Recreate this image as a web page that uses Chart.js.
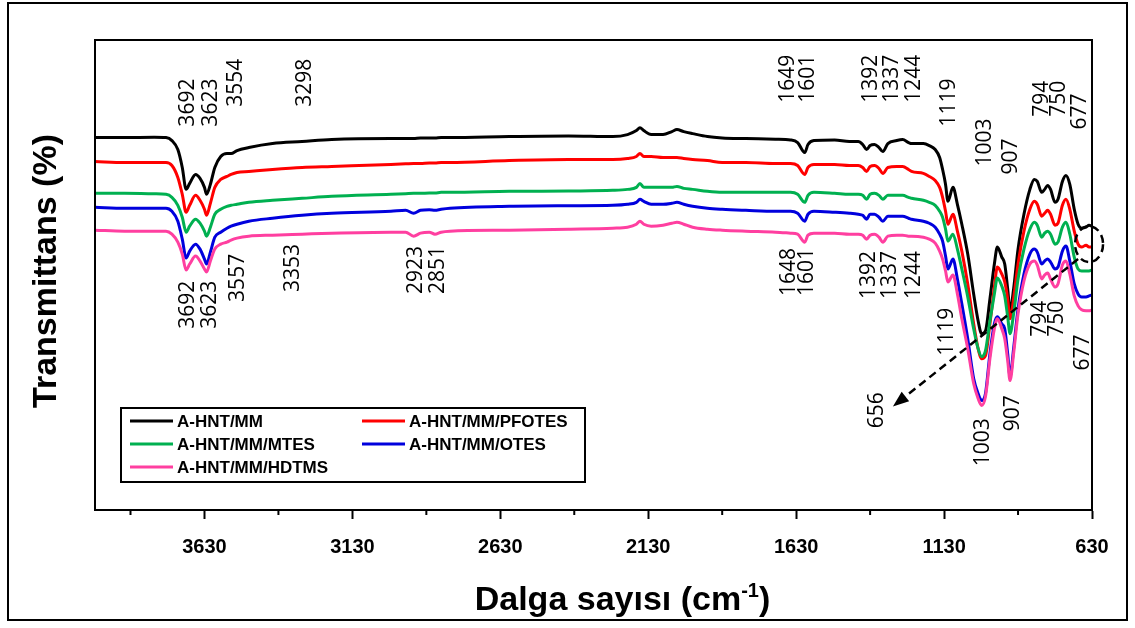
<!DOCTYPE html>
<html>
<head>
<meta charset="utf-8">
<title>FTIR</title>
<script src="https://cdn.jsdelivr.net/npm/chart.js@4.4.1/dist/chart.umd.min.js"></script>
<style>
html, body { margin: 0; padding: 0; background: #fff; }
#wrap { width: 1135px; height: 628px; }
</style>
</head>
<body>
<div id="wrap"><canvas id="chart" width="1135" height="628"></canvas></div>
<script>
// wavenumber grid (cm-1), shared by every spectrum
const wavenumbers = [
    4000, 3900, 3800, 3760, 3740, 3720, 3705, 3692, 3680, 3660,
    3645, 3630, 3623, 3610, 3595, 3575, 3554, 3540, 3520, 3480,
    3400, 3300, 3200, 3000, 2950, 2923, 2900, 2870, 2851, 2830,
    2800, 2600, 2400, 2250, 2200, 2170, 2158, 2145, 2120, 2080,
    2050, 2033, 2010, 1980, 1930, 1880, 1800, 1700, 1649, 1625,
    1601, 1590, 1570, 1500, 1450, 1420, 1405, 1392, 1380, 1365,
    1350, 1337, 1320, 1290, 1270, 1250, 1240, 1200, 1180, 1160,
    1145, 1135, 1125, 1117, 1100, 1085, 1070, 1050, 1030, 1015,
    1003, 990, 975, 960, 950, 935, 925, 915, 907, 895,
    880, 860, 840, 825, 815, 800, 790, 780, 770, 755,
    745, 730, 718, 705, 690, 677, 665, 650, 640, 630
];

// transmittance (%), spectra are offset vertically
const hntMM = [
    93.5, 93.5, 93.6, 93.5, 92.75, 90.5, 86, 80.5, 82, 84.25,
    83.25, 81, 79.25, 81.75, 86, 88.75, 89.5, 89.5, 90.25, 91,
    92, 92.5, 93, 93.25, 93.25, 93.25, 93.4, 93.4, 93.4, 93.5,
    93.5, 93.75, 93.9, 93.75, 94.25, 95.25, 96, 95.25, 94.25, 94.25,
    95, 95.5, 95, 94.5, 93.75, 93.4, 93.25, 93.1, 92.9, 92.25,
    89.75, 91.75, 92.75, 92.9, 92.5, 92.5, 91.75, 90.5, 91.5, 91.75,
    91, 90, 92, 92.75, 93, 92.25, 92, 92, 91.5, 90.5,
    88.5, 85.5, 81.75, 77.5, 81, 76.75, 71.75, 64.25, 54.25, 47.5,
    44.25, 45, 53, 61.75, 66, 63.5, 61.75, 55.5, 50, 55.5,
    65.5, 74.25, 80.5, 83, 82.5, 79.75, 80.5, 81.5, 80.5, 77.25,
    78, 82.5, 84, 81.75, 75.5, 71.75, 70.75, 71, 71.5, 71.25
];
const hntPfotes = [
    87.5, 87.25, 87.25, 87.25, 86.5, 83.5, 79.25, 74.75, 76.5, 79,
    77.75, 75.5, 74, 77, 81, 83, 83.75, 84.25, 84.75, 85,
    85.5, 86, 86.25, 86.75, 86.9, 87, 87, 87.1, 87.1, 87.25,
    87.25, 87.75, 88, 88, 88.25, 88.75, 89.5, 88.75, 88.75, 88.5,
    88.5, 88.5, 88.25, 88, 87.75, 87.25, 87.25, 87, 87, 86.5,
    84.25, 86, 86.75, 86.75, 86.5, 86.5, 86, 85, 86.25, 86.5,
    85.75, 84.5, 86, 86.25, 86.25, 85.5, 85, 84.5, 83.75, 82.75,
    81, 78.5, 75, 71.75, 74.25, 70, 65, 56.75, 46.75, 40.5,
    38, 38.75, 46.75, 56, 61, 59.25, 57.25, 53, 48, 53,
    61.75, 70, 75.5, 77.5, 76.75, 73.75, 74.5, 75.25, 74.25, 71.5,
    72, 76.5, 78, 75.5, 70, 66.75, 66, 66.5, 66, 66
];
const hntMtes = [
    79.5, 79.5, 79.4, 79.25, 78.5, 76.5, 73.5, 69.75, 71.25, 73,
    72, 70, 68.75, 71, 74.25, 75.5, 76.25, 76.5, 76.75, 77.25,
    77.75, 78.25, 78.75, 79.25, 79.4, 79.5, 79.5, 79.6, 79.6, 79.75,
    79.75, 80, 80.1, 80.25, 80.5, 81, 82, 81, 81, 81,
    81, 81.25, 80.75, 80.5, 80, 79.75, 79.75, 79.75, 79.75, 79.25,
    77.25, 79, 79.75, 79.5, 79.25, 79.25, 79, 78, 79.25, 79.5,
    79, 78, 79, 79, 79, 78.5, 78.25, 77.75, 77.25, 76.5,
    75, 73.5, 70.5, 67.5, 69.25, 65.5, 60.5, 53.5, 45.5, 40.5,
    38.5, 40, 47.5, 54.25, 58.25, 56.25, 53.75, 48.5, 44.25, 49.25,
    58, 65.5, 70.5, 72.25, 71.5, 68.5, 69.5, 70, 69.25, 66.75,
    67.25, 71, 72.25, 69.25, 63.5, 60.5, 60, 60, 60, 60.25
];
const hntOtes = [
    76, 75.75, 75.75, 75.75, 75, 72.5, 68, 63.25, 65, 66.75,
    65.5, 63, 61.75, 64.75, 68.5, 69.75, 70.75, 71.25, 71.75, 72.5,
    73.25, 74, 74.5, 75, 75.25, 74.5, 75.25, 75.4, 75.25, 75.5,
    75.75, 76.25, 76.4, 76.5, 76.75, 77.25, 78, 77.5, 76.75, 76.75,
    77, 77.25, 76.75, 76.25, 75.75, 75.5, 75.25, 75, 75, 74.5,
    72.5, 74.25, 75, 74.75, 74.5, 74.25, 74, 73, 74.25, 74.25,
    73.5, 72.5, 73.75, 73.75, 73.75, 73.25, 73, 72.5, 72, 71,
    69.25, 67.5, 63.75, 60.5, 63, 58, 51.75, 43, 33, 29.25,
    27.5, 29.25, 39.25, 46.75, 48.5, 46.75, 45.5, 39.25, 33.5, 40.5,
    50.5, 59.25, 64.25, 65.5, 64.75, 61.75, 62.5, 63, 62.25, 60.5,
    61, 65, 66.25, 62.5, 56.75, 54.25, 53.5, 53.5, 53.75, 54
];
const hntHdtms = [
    70.25, 70, 70, 70, 69.25, 67.25, 64.25, 60.25, 61.75, 63.75,
    62.5, 60.5, 59.75, 62.5, 65.5, 66.75, 67.25, 67.75, 68.25, 68.75,
    69, 69.25, 69.5, 69.75, 69.75, 68.75, 69.5, 69.75, 69.25, 69.75,
    70, 70.25, 70.5, 70.75, 71, 71.75, 72.5, 71.75, 71.25, 71.5,
    72, 72.25, 71.75, 71, 70.5, 70.25, 70, 69.75, 69.5, 69.25,
    67.25, 69, 69.5, 69.5, 69.25, 69.25, 69, 68, 69, 69.25,
    68.5, 67.25, 68.75, 69, 69, 68.75, 68.75, 68.5, 68, 67,
    65, 63, 60, 57.25, 59, 54.25, 48, 40.5, 31.75, 28,
    26.25, 28.5, 38, 45.5, 48, 45.5, 43, 37.5, 32.5, 39.25,
    49.25, 57.5, 61.75, 62.5, 61.5, 58, 59, 59.5, 58, 56,
    56.75, 61.5, 62.5, 59.25, 53.75, 51.25, 50.25, 50, 50, 50.25
];

const seriesNames = ["A-HNT/MM", "A-HNT/MM/PFOTES", "A-HNT/MM/MTES", "A-HNT/MM/OTES", "A-HNT/MM/HDTMS"];
const seriesValues = [hntMM, hntPfotes, hntMtes, hntOtes, hntHdtms];
const seriesColors = ["#000000", "#ff0000", "#00b050", "#0000dd", "#ff3fa0"];

const majorTicks = [630, 1130, 1630, 2130, 2630, 3130, 3630];
const minorTicks = [880, 1380, 1880, 2380, 2880, 3380, 3880];

// band labels: text, wavenumber where it sits, transmittance at the start of the rotated text
const upperBands = [
    ["3692", 3686, 96.25], ["3623", 3608, 96.25], ["3554", 3523, 101.25], ["3298", 3290, 101.25],
    ["1649", 1658, 102.25], ["1601", 1590, 102.25], ["1392", 1377, 102.25], ["1337", 1306, 102.25],
    ["1244", 1232, 102.25], ["1119", 1113, 96.25], ["1003", 992, 86.25], ["907", 904, 84.25],
    ["794", 799, 98.75], ["750", 742, 98.75], ["677", 671, 95.5]
];
const lowerBands = [
    ["3692", 3686, 45.5], ["3623", 3611, 45.5], ["3557", 3517, 52.25], ["3353", 3331, 54.75],
    ["2923", 2915, 54.25], ["2851", 2841, 54.25], ["1648", 1654, 53.75], ["1601", 1593, 53.75],
    ["1392", 1384, 53], ["1337", 1313, 53], ["1244", 1232, 53], ["1119", 1120, 38.75],
    ["656", 1357, 20.5], ["1003", 998, 11], ["907", 897, 19.75], ["794", 806, 43.5],
    ["750", 748, 43.5], ["677", 660, 35]
];

// zoomed region at the low end and the arrow pointing to its label
const circleAt = [640, 66.75];
const arrowFrom = [677, 63];
const arrowTo = [1303, 26];

const toPoints = values => values.map((v, i) => ({x: wavenumbers[i], y: v}));

const titleFont = size => `bold ${size}px 'Liberation Sans', Arial, sans-serif`;

const frame = {
    id: "frame",
    beforeDraw: chart => {
        const {ctx} = chart;
        ctx.save();
        ctx.fillStyle = "#fff";
        ctx.fillRect(0, 0, chart.width, chart.height);
        ctx.restore();
    },
    afterDraw: chart => {
        const {ctx, chartArea: a, scales: {x, y}} = chart;
        ctx.save();
        ctx.strokeStyle = "#000";
        ctx.lineWidth = 2;
        ctx.strokeRect(8, 3, 1119, 617);
        ctx.strokeRect(a.left, a.top, a.right - a.left, a.bottom - a.top);

        // short minor ticks
        minorTicks.forEach(v => {
            const px = x.getPixelForValue(v);
            ctx.beginPath();
            ctx.moveTo(px, a.bottom);
            ctx.lineTo(px, a.bottom + 5);
            ctx.stroke();
        });

        // axis titles
        ctx.fillStyle = "#000";
        ctx.textBaseline = "middle";
        ctx.font = titleFont(34);
        ctx.save();
        ctx.translate(47, (a.top + a.bottom) / 2 - 4);
        ctx.rotate(-Math.PI / 2);
        ctx.textAlign = "center";
        ctx.fillText("Transmittans (%)", 0, 0);
        ctx.restore();

        const main = "Dalga sayısı (cm";
        const sup = "-1";
        const close = ")";
        ctx.font = titleFont(34);
        const w1 = ctx.measureText(main).width;
        const w3 = ctx.measureText(close).width;
        ctx.font = titleFont(20);
        const w2 = ctx.measureText(sup).width;
        let tx = (a.left + a.right) / 2 + 29 - (w1 + w2 + w3) / 2;
        const ty = 601;
        ctx.textAlign = "left";
        ctx.font = titleFont(34);
        ctx.fillText(main, tx, ty);
        tx += w1;
        ctx.font = titleFont(20);
        ctx.fillText(sup, tx, ty - 10);
        tx += w2;
        ctx.font = titleFont(34);
        ctx.fillText(close, tx, ty);

        // band labels, rotated
        ctx.font = "500 21px 'Open Sans', sans-serif";
        [...upperBands, ...lowerBands].forEach(([text, wn, t]) => {
            ctx.save();
            ctx.translate(x.getPixelForValue(wn), y.getPixelForValue(t));
            ctx.rotate(-Math.PI / 2);
            ctx.textAlign = "left";
            ctx.fillText(text, 0, 0);
            ctx.restore();
        });

        // dashed circle and arrow
        ctx.setLineDash([8, 5]);
        ctx.lineWidth = 2.5;
        ctx.beginPath();
        ctx.ellipse(x.getPixelForValue(circleAt[0]), y.getPixelForValue(circleAt[1]), 14, 18, 0, 0, Math.PI * 2);
        ctx.stroke();
        const x0 = x.getPixelForValue(arrowFrom[0]), y0 = y.getPixelForValue(arrowFrom[1]);
        const x1 = x.getPixelForValue(arrowTo[0]), y1 = y.getPixelForValue(arrowTo[1]);
        const ang = Math.atan2(y1 - y0, x1 - x0);
        ctx.beginPath();
        ctx.moveTo(x0, y0);
        ctx.lineTo(x1 - 10 * Math.cos(ang), y1 - 10 * Math.sin(ang));
        ctx.stroke();
        ctx.setLineDash([]);
        ctx.beginPath();
        ctx.moveTo(x1, y1);
        ctx.lineTo(x1 - 16 * Math.cos(ang) + 6 * Math.sin(ang), y1 - 16 * Math.sin(ang) - 6 * Math.cos(ang));
        ctx.lineTo(x1 - 16 * Math.cos(ang) - 6 * Math.sin(ang), y1 - 16 * Math.sin(ang) + 6 * Math.cos(ang));
        ctx.closePath();
        ctx.fill();

        // legend box
        ctx.lineWidth = 2;
        ctx.strokeRect(121, 408, 464, 74);
        ctx.font = "bold 17px 'Liberation Sans', Arial, sans-serif";
        ctx.textAlign = "left";
        chart.data.datasets.forEach((ds, i) => {
            const col = i % 2, row = Math.floor(i / 2);
            const lx = col === 0 ? 130 : 362;
            const ly = 421 + row * 23;
            ctx.strokeStyle = ds.borderColor;
            ctx.lineWidth = 3;
            ctx.beginPath();
            ctx.moveTo(lx, ly);
            ctx.lineTo(lx + 43, ly);
            ctx.stroke();
            ctx.fillText(ds.label, lx + 47, ly + 1);
        });
        ctx.restore();
    }
};

new Chart("chart", {
    type: "line",
    data: {
        datasets: seriesValues.map((values, i) => ({
            label: seriesNames[i],
            data: toPoints(values),
            borderColor: seriesColors[i],
            backgroundColor: seriesColors[i],
            borderWidth: 3,
            pointRadius: 0,
            cubicInterpolationMode: "monotone",
            borderJoinStyle: "round",
            borderCapStyle: "round",
            order: seriesValues.length - i
        }))
    },
    options: {
        responsive: false,
        animation: false,
        layout: {padding: {top: 40, right: 43, left: 0, bottom: 0}},
        plugins: {legend: {display: false}, tooltip: {enabled: false}},
        scales: {
            x: {
                type: "linear",
                reverse: true,
                min: 630,
                max: 4000,
                afterBuildTicks: s => {
                    s.ticks = [...majorTicks, ...minorTicks].sort((a, b) => a - b).map(v => ({value: v}));
                },
                afterFit: s => { s.height = 118; },
                border: {display: true, color: "#000", width: 2},
                grid: {
                    drawOnChartArea: false,
                    drawTicks: true,
                    tickLength: 9,
                    tickWidth: 2,
                    tickColor: c => majorTicks.includes(c.tick.value) ? "#000" : "rgba(0,0,0,0)"
                },
                ticks: {
                    autoSkip: false,
                    maxRotation: 0,
                    padding: 16,
                    color: "#000",
                    font: {family: "'Liberation Sans Narrow', 'Arial Narrow', 'Liberation Sans', sans-serif", size: 20, weight: "bold"},
                    callback: v => majorTicks.includes(v) ? String(v) : ""
                }
            },
            y: {
                min: 0,
                max: 118,
                afterFit: s => { s.width = 95; },
                border: {display: true, color: "#000", width: 2},
                grid: {display: false},
                ticks: {display: false}
            }
        }
    },
    plugins: [frame]
});
</script>
</body>
</html>
